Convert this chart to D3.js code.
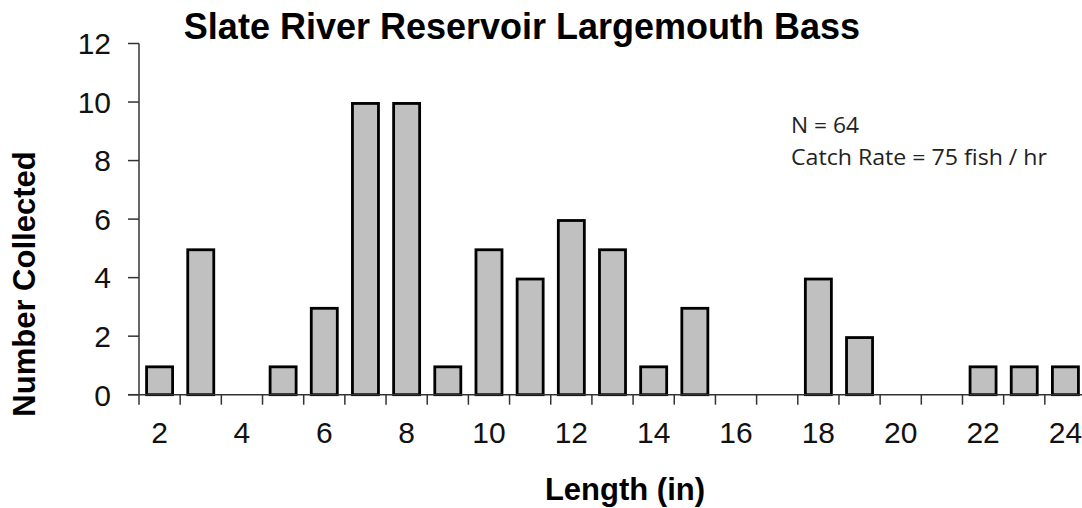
<!DOCTYPE html>
<html>
<head>
<meta charset="UTF-8">
<script src="https://d3js.org/d3.v7.min.js"></script>
<style>
  body { margin: 0; background: #fff; }
  .tick-label { font: 30px "Liberation Sans", Arial, sans-serif; fill: #111; }
  .axis-title { font: bold 31px "Liberation Sans", Arial, sans-serif; fill: #000; }
  .title { font: bold 36px "Liberation Sans", Arial, sans-serif; fill: #000; }
  .note { font: 22px "Open Sans", "Noto Sans", sans-serif; fill: #222; }
</style>
</head>
<body>
<svg id="chart" width="1082" height="508"></svg>
<script>
// length classes (inches) and number of fish collected in each
var lengths = [2, 3, 4, 5, 6, 7, 8, 9, 10, 11, 12, 13, 14, 15, 16, 17, 18, 19, 20, 21, 22, 23, 24];
var counts  = [1, 5, 0, 1, 3, 10, 10, 1, 5, 4, 6, 5, 1, 3, 0, 0, 4, 2, 0, 0, 1, 1, 1];
var yTicks = [0, 2, 4, 6, 8, 10, 12];
var xLabels = [2, 4, 6, 8, 10, 12, 14, 16, 18, 20, 22, 24];
var notes = ["N = 64", "Catch Rate =  75 fish / hr"];

var svg = d3.select("#chart");
var plotLeft = 139, plotRight = 1086, plotTop = 43.5, plotBottom = 394.7;

var x = d3.scaleBand().domain(lengths).range([plotLeft, plotRight]).paddingInner(0.3).paddingOuter(0.15);
var xb = d3.scaleBand().domain(lengths).range([plotLeft, plotRight]).padding(0);
var y = d3.scaleLinear().domain([0, 12]).range([plotBottom, plotTop]);

// bars
svg.selectAll(".bar")
  .data(counts)
  .enter().append("rect")
  .attr("class", "bar")
  .attr("x", (d, i) => x(lengths[i]) + 1.4)
  .attr("width", x.bandwidth() - 2.8)
  .attr("y", d => y(d) + 1.4)
  .attr("height", d => Math.max(0, plotBottom - y(d) - 1.4))
  .attr("fill", "#c0c0c0")
  .attr("stroke", "#000")
  .attr("stroke-width", 2.8)
  .style("display", d => d > 0 ? null : "none");

// y axis
var axisColor = "#333";
svg.append("line")
  .attr("x1", plotLeft).attr("x2", plotLeft)
  .attr("y1", plotTop).attr("y2", plotBottom)
  .attr("stroke", axisColor).attr("stroke-width", 1.5);

var yt = svg.selectAll(".ytick").data(yTicks).enter().append("g")
  .attr("transform", d => "translate(0," + y(d) + ")");
yt.append("line")
  .attr("x1", plotLeft - 11).attr("x2", plotLeft)
  .attr("stroke", axisColor).attr("stroke-width", 1.5);
yt.append("text")
  .attr("class", "tick-label")
  .attr("x", plotLeft - 28)
  .attr("dy", "0.36em")
  .attr("text-anchor", "end")
  .text(d => d);

// x axis
svg.append("line")
  .attr("x1", plotLeft - 11).attr("x2", plotRight)
  .attr("y1", plotBottom).attr("y2", plotBottom)
  .attr("stroke", axisColor).attr("stroke-width", 1.5);

var bounds = lengths.map(d => xb(d)).concat([plotRight]);
svg.selectAll(".xtick").data(bounds).enter().append("line")
  .attr("x1", d => d).attr("x2", d => d)
  .attr("y1", plotBottom).attr("y2", plotBottom + 10)
  .attr("stroke", axisColor).attr("stroke-width", 1.5);

svg.selectAll(".xlabel").data(xLabels).enter().append("text")
  .attr("class", "tick-label")
  .attr("x", d => xb(d) + xb.bandwidth() / 2)
  .attr("y", 443)
  .attr("text-anchor", "middle")
  .text(d => d);

// titles
svg.append("text")
  .attr("class", "title")
  .attr("x", 522)
  .attr("y", 39)
  .attr("text-anchor", "middle")
  .text("Slate River Reservoir Largemouth Bass");

svg.append("text")
  .attr("class", "axis-title")
  .attr("x", 625)
  .attr("y", 500)
  .attr("text-anchor", "middle")
  .text("Length (in)");

svg.append("text")
  .attr("class", "axis-title")
  .attr("transform", "translate(35,284) rotate(-90)")
  .attr("text-anchor", "middle")
  .text("Number Collected");

// annotation
svg.append("text")
  .attr("class", "note")
  .attr("x", 791).attr("y", 133)
  .attr("textLength", 68).attr("lengthAdjust", "spacingAndGlyphs")
  .text(notes[0]);
svg.append("text")
  .attr("class", "note")
  .attr("x", 791).attr("y", 165)
  .attr("textLength", 256).attr("lengthAdjust", "spacingAndGlyphs")
  .text(notes[1]);
</script>
</body>
</html>
